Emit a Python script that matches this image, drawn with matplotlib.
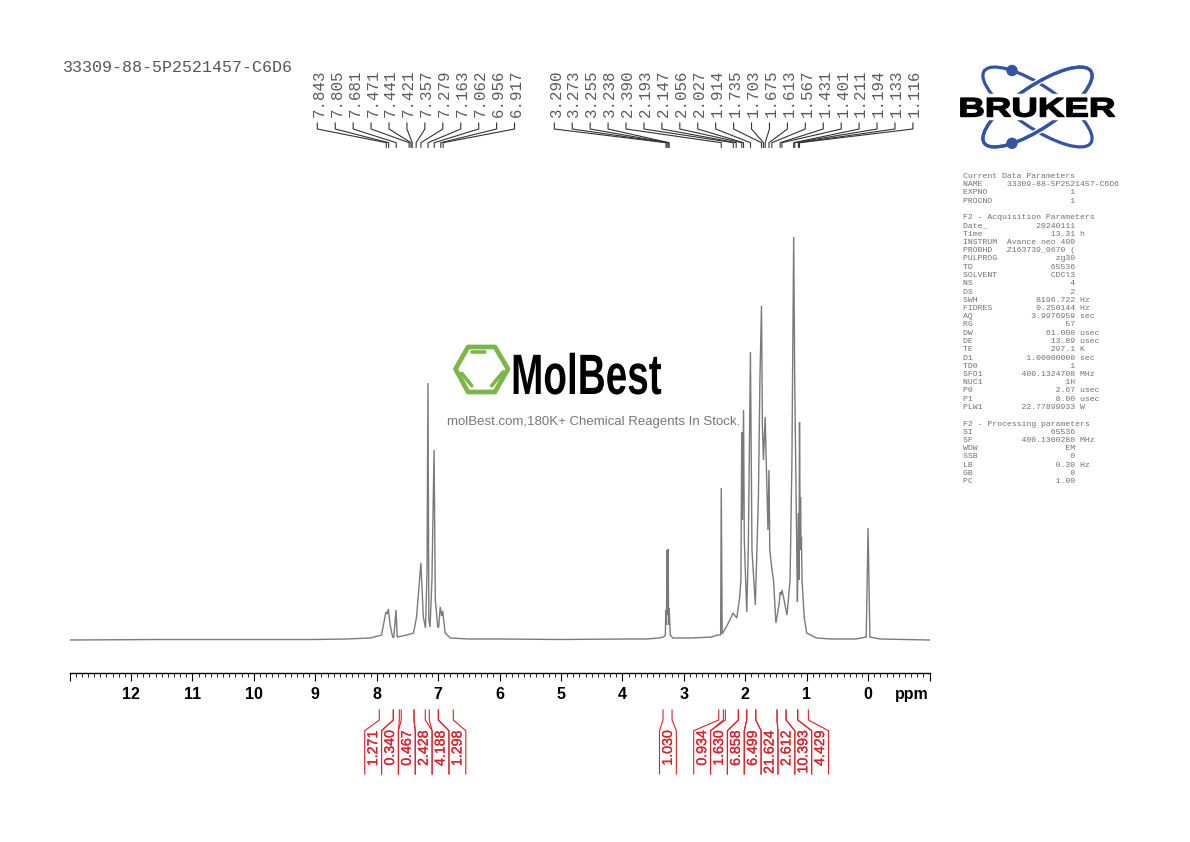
# NMR spectrum page, 1H with Bruker parameter block

import matplotlib
matplotlib.use('Agg')
import matplotlib.pyplot as plt
from matplotlib.patches import Ellipse, Circle, Polygon, Rectangle
from matplotlib.transforms import Affine2D
import matplotlib.patheffects as pe

# Spectrum trace: chemical shift and height
spectrum_ppm = [13.0, 11.5, 10.0, 9.0, 8.5, 8.1, 7.92, 7.85, 7.83, 7.81, 7.78, 7.74, 7.72, 7.685, 7.665,
                7.51, 7.40, 7.35, 7.28, 7.24, 7.205, 7.18, 7.165, 7.15, 7.13, 7.10, 7.065, 7.045, 7.005,
                6.99, 6.965, 6.94, 6.925, 6.885, 6.80, 6.5, 6.0, 5.0, 4.0, 3.6, 3.4, 3.33, 3.30, 3.293,
                3.282, 3.273, 3.264, 3.255, 3.247, 3.238, 3.22, 3.18, 2.9, 2.7, 2.55, 2.45, 2.40, 2.39,
                2.375, 2.30, 2.25, 2.20, 2.137, 2.09, 2.07, 2.056, 2.045, 2.027, 2.015, 1.975, 1.95, 1.915,
                1.89, 1.835, 1.785, 1.76, 1.735, 1.72, 1.703, 1.675, 1.665, 1.63, 1.613, 1.60, 1.565, 1.54,
                1.50, 1.45, 1.43, 1.415, 1.40, 1.32, 1.27, 1.24, 1.211, 1.194, 1.178, 1.155, 1.15, 1.133,
                1.125, 1.116, 1.105, 1.10, 1.09, 1.085, 1.075, 1.04, 1.0, 0.84, 0.6, 0.2, 0.03, 0.0, -0.03,
                -0.2, -1.0]
spectrum_height = [0, 0.5, 0.5, 0.5, 1, 2, 5, 28, 26, 31, 15, 3, 2.5, 30, 3,
                   5, 7, 23, 77, 23, 12, 67, 257, 20, 13, 60, 190, 40, 13,
                   13, 33, 24, 29, 7, 2, 1, 1, 0.5, 1, 1, 2, 3, 5, 30,
                   15, 90, 25, 91, 15, 32, 5, 2, 2, 2.5, 3, 5, 5, 152,
                   6, 14, 20, 27, 22, 43, 60, 208, 120, 230, 100, 28, 90, 288,
                   90, 35, 143, 263, 334, 213, 180, 223, 197, 110, 170, 90, 70, 60,
                   17, 35, 48, 45, 50, 25, 60, 177, 403, 258, 177, 60, 38, 127,
                   60, 218, 100, 143, 90, 103, 60, 23, 7, 2, 1, 1, 3, 112, 3,
                   1, 0]

# Peak labels above the trace
peak_group_1 = [7.843, 7.805, 7.681, 7.471, 7.441, 7.421, 7.357, 7.279, 7.163, 7.062, 6.956, 6.917]
peak_group_2 = [3.290, 3.273, 3.255, 3.238, 2.390, 2.193, 2.147, 2.056, 2.027, 1.914, 1.735,
                1.703, 1.675, 1.613, 1.567, 1.431, 1.401, 1.211, 1.194, 1.133, 1.116]

# Integrals below the axis
integral_group_1 = ['1.271', '0.340', '0.467', '2.428', '4.188', '1.298']
integral_left_1 = [7.957, 7.729, 7.599, 7.392, 7.143, 6.996]
integral_right_1 = [7.729, 7.631, 7.392, 7.208, 6.996, 6.752]
integral_group_2 = ['1.030']
integral_left_2 = [3.338]
integral_right_2 = [3.191]
integral_group_3 = ['0.934', '1.630', '6.858', '6.499', '21.624', '2.612', '10.393', '4.429']
integral_left_3 = [2.431, 2.323, 2.112, 1.975, 1.828, 1.482, 1.335, 1.145]
integral_right_3 = [2.356, 2.112, 1.975, 1.828, 1.482, 1.335, 1.145, 0.972]

# Axis ticks
major_ticks = [-1, 0, 1, 2, 3, 4, 5, 6, 7, 8, 9, 10, 11, 12, 13]
major_labels = ['', '0', '1', '2', '3', '4', '5', '6', '7', '8', '9', '10', '11', '12', '']
minor_ticks = [i / 10 for i in range(-10, 131)]

# Parameter block, name / value / unit
param_names_1 = ['EXPNO', 'PROCNO']
param_values_1 = ['1', '1']
param_names_2 = ['Date_', 'Time', 'INSTRUM', 'PROBHD', 'PULPROG', 'TD', 'SOLVENT', 'NS', 'DS', 'SWH',
                 'FIDRES', 'AQ', 'RG', 'DW', 'DE', 'TE', 'D1', 'TD0', 'SFO1', 'NUC1', 'P0', 'P1', 'PLW1']
param_values_2 = ['20240111', '13.31', 'Avance neo 400', 'Z163739_0670 (', 'zg30', '65536', 'CDCl3', '4', '2',
                  '8196.722', '0.250144', '3.9976959', '57', '61.000', '13.89', '297.1', '1.00000000', '1',
                  '400.1324708', '1H', '2.67', '8.00', '22.77899933']
param_units_2 = ['', 'h', '', '', '', '', '', '', '', 'Hz', 'Hz', 'sec', '', 'usec', 'usec', 'K', 'sec', '',
                 'MHz', '', 'usec', 'usec', 'W']
param_names_3 = ['SI', 'SF', 'WDW', 'SSB', 'LB', 'GB', 'PC']
param_values_3 = ['65536', '400.1300280', 'EM', '0', '0.30', '0', '1.00']
param_units_3 = ['', 'MHz', '', '', 'Hz', '', '']

sample_name = '33309-88-5P2521457-C6D6'


# Stretch a text sideways around a point, so it stays real text
class Stretch(pe.AbstractPathEffect):
    def __init__(self, cx, sx, stroke=0.0):
        super().__init__()
        self.cx = cx
        self.sx = sx
        self.stroke = stroke

    def draw_path(self, renderer, gc, tpath, affine, rgbFace=None):
        gc.set_linewidth(self.stroke)
        gc.set_foreground(rgbFace)
        extra = Affine2D().translate(-self.cx, 0).scale(self.sx, 1).translate(self.cx, 0)
        renderer.draw_path(gc, tpath, affine + extra, rgbFace)


W, H = 1190, 842
fig = plt.figure(figsize=(W / 100, H / 100), dpi=100, facecolor='white')

# Main axes, only the bottom spine is visible
ax = fig.add_axes([69.5 / W, 1 - 672.5 / H, 860 / W, 512.5 / H], facecolor='none')
ax.set_xlim(13.0, -1.0)
ax.set_ylim(-32.5, 480)
for side in ['top', 'left', 'right']:
    ax.spines[side].set_visible(False)
ax.spines['bottom'].set_linewidth(1.0)
ax.yaxis.set_visible(False)
ax.set_xticks(major_ticks)
ax.set_xticklabels(major_labels, fontfamily='Liberation Sans', fontweight='bold', fontsize=11.5)
ax.set_xticks(minor_ticks, minor=True)
ax.tick_params(axis='x', which='major', length=5.5, width=0.8, pad=5)
ax.tick_params(axis='x', which='minor', length=3, width=0.6)

ax.plot(spectrum_ppm, spectrum_height, color='#7a7a7a', lw=1.0, solid_joinstyle='miter', zorder=3)

# Overlay in picture pixels for everything around the axes
ov = fig.add_axes([0, 0, 1, 1], facecolor='none')
ov.set_xlim(0, W)
ov.set_ylim(H, 0)
ov.axis('off')


def ppm_px(p):
    # chemical shift to overlay x, through the main axis scale
    return ov.transData.inverted().transform(ax.transData.transform((p, 0)))[0]


ov.text(912, 698.5, 'ppm', ha='center', va='baseline', fontfamily='Liberation Sans', fontweight='bold', fontsize=11.5)
ov.text(63, 68, sample_name, ha='left', va='center', fontfamily='Liberation Mono', fontsize=12, color='#555555')

# Peak labels with leader lines
for group, first_x in [(peak_group_1, 319.0), (peak_group_2, 556.0)]:
    for i, p in enumerate(group):
        lx = first_x + i * 17.93
        ov.text(lx, 93.5, f'{p:.3f}', rotation=90, ha='center', va='center',
                fontfamily='Liberation Mono', fontsize=11.3, color='#5a5a5a')
        px = ppm_px(p)
        ov.plot([lx - 1.7, lx - 1.7, px, px], [123, 129, 142.7, 147.3], color='#333333', lw=0.8)

# Integral brackets and values
red = '#d8232c'
for values, lefts, rights, first_b in [(integral_group_1, integral_left_1, integral_right_1, 364.7),
                                       (integral_group_2, integral_left_2, integral_right_2, 659.5),
                                       (integral_group_3, integral_left_3, integral_right_3, 693.7)]:
    for i, v in enumerate(values):
        b0 = first_b + i * 16.85
        b1 = b0 + 16.85
        for p, b in [(lefts[i], b0), (rights[i], b1)]:
            px = ppm_px(p)
            ov.plot([px, px, b, b], [710, 720, 730.7, 774], color=red, lw=0.8)
        ov.text((b0 + b1) / 2, 730.5, v, rotation=90, ha='center', va='top',
                fontfamily='Liberation Sans', fontsize=10.2, color=red,
                path_effects=[pe.withStroke(linewidth=0.2, foreground=red)])

# Parameter block
lines = ['Current Data Parameters', 'NAME'.ljust(9) + sample_name]
for n, v in zip(param_names_1, param_values_1):
    lines.append(f'{n:<8}{v:>15}')
lines += ['', 'F2 - Acquisition Parameters']
for n, v, u in zip(param_names_2, param_values_2, param_units_2):
    lines.append(f'{n:<8}{v:>15} {u}')
lines += ['', 'F2 - Processing parameters']
for n, v, u in zip(param_names_3, param_values_3, param_units_3):
    lines.append(f'{n:<8}{v:>15} {u}')
for i, line in enumerate(lines):
    ov.text(963, 178 + i * 8.25, line, ha='left', va='baseline',
            fontfamily='Liberation Mono', fontsize=5.85, color='#707070')

# Bruker logo
blue = '#3353a4'
ov.add_patch(Ellipse((1037.5, 107), 128.6, 42, angle=34, fill=False, edgecolor=blue, lw=2.3))
ov.add_patch(Ellipse((1037.5, 107), 128.6, 42, angle=-34, fill=False, edgecolor=blue, lw=2.3,
                     path_effects=[pe.withStroke(linewidth=4.5, foreground='white'), pe.Normal()]))
ov.add_patch(Circle((1012, 70.5), 5, color=blue))
ov.add_patch(Circle((1012, 143.3), 5, color=blue))
ov.add_patch(Rectangle((975, 93.5), 125, 25, color='white', zorder=2.5))
cx = ov.transData.transform((1036.5, 0))[0]
ov.text(1036.5, 116.5, 'BRUKER', ha='center', va='baseline', fontfamily='Liberation Sans', fontweight='bold',
        fontsize=19.3, color='black', zorder=3, path_effects=[Stretch(cx, 1.37, 1.0)])

# MolBest watermark
green = '#7ab648'
ov.add_patch(Polygon([(455.5, 369), (468, 347), (495, 347), (508, 369), (495, 392), (468, 392)],
                     closed=True, fill=False, edgecolor=green, lw=3.4, joinstyle='round'))
for xs, ys in [([472, 485], [351.7, 351.7]), ([461.7, 471.7], [373.3, 385.7]), ([491.7, 503], [385.7, 372])]:
    ov.plot(xs, ys, color=green, lw=2.6, solid_capstyle='round')
cx = ov.transData.transform((586.5, 0))[0]
ov.text(586.5, 394, 'MolBest', ha='center', va='baseline', fontfamily='Liberation Sans', fontweight='bold',
        fontsize=41, color='black', path_effects=[Stretch(cx, 0.68)])
ov.text(594, 422, 'molBest.com,180K+ Chemical Reagents In Stock.', ha='center', va='center',
        fontfamily='Liberation Sans', fontsize=9.5, color='#777777')

fig.savefig('out.png', dpi=100, facecolor='white')
